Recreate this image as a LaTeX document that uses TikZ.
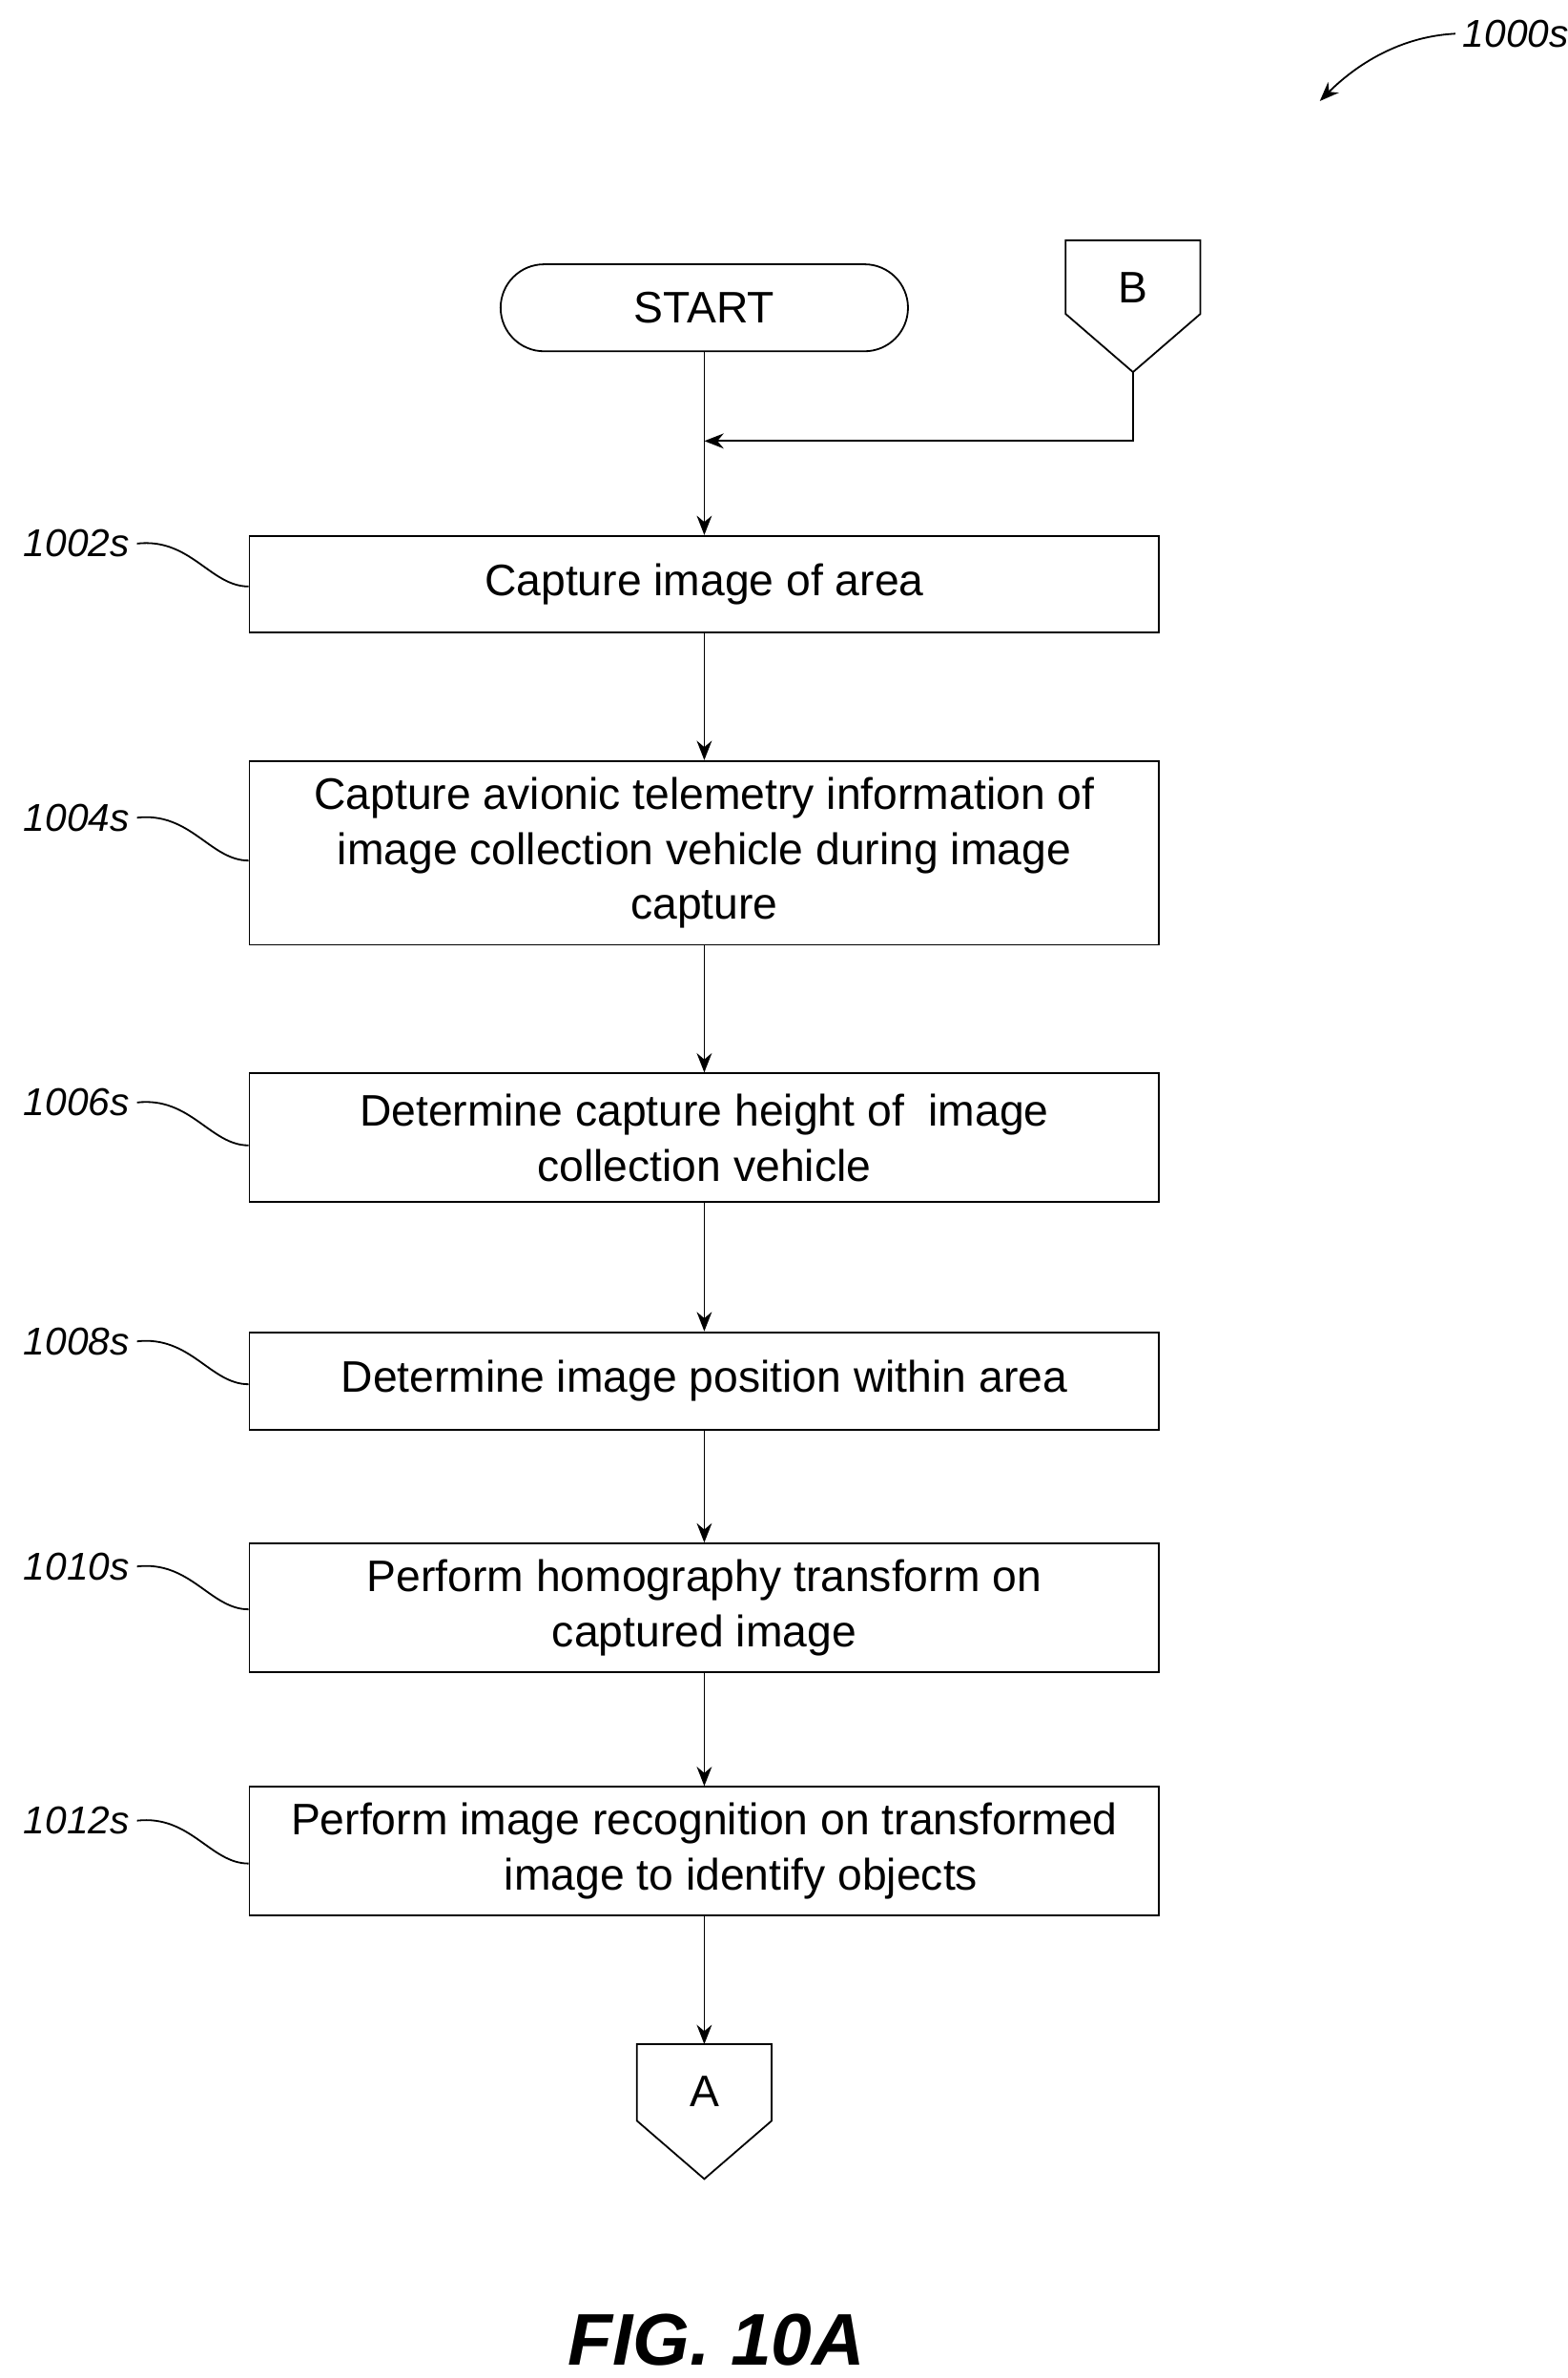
\documentclass[tikz,border=0pt]{standalone}
\usepackage{fontspec}
\setmainfont{Liberation Sans}
\usetikzlibrary{positioning,arrows.meta}
\begin{document}
\begin{tikzpicture}[
    x=0.025cm, y=-0.025cm,
    font=\fontsize{20.5}{25.6}\selectfont,
    procbox/.style={draw, thick, minimum width=14.85cm, align=center, inner sep=0pt},
    ref/.style={font=\fontsize{18}{20}\selectfont\itshape},
    flow/.style={thick, -{Stealth[length=9pt,width=7pt]}},
    lead/.style={thick},
]
\useasboundingbox (0,0) rectangle (1024,1553);

% Start and off-page connectors
\node[draw, thick, rounded corners=0.71cm, minimum width=6.65cm, minimum height=1.42cm] (start) at (460,201) {START};
\draw[thick] (696,157) -- (784,157) -- (784,205) -- (740,243) -- (696,205) -- cycle;
\node (b) at (740,188) {B};
\coordinate (bpt) at (740,243);
\coordinate (join) at (460,288);

\draw[thick] (416,1335) -- (504,1335) -- (504,1385) -- (460,1423) -- (416,1385) -- cycle;
\node (a) at (460,1366) {A};
\coordinate (atop) at (460,1335);

% Steps
\node[procbox, minimum height=1.575cm] (s1) at (460,381.5) {Capture image of area};
\node[procbox, minimum height=3.0cm] (s2) at (460,557) {Capture avionic telemetry information of\\image collection vehicle during image\\capture};
\node[procbox, minimum height=2.1cm] (s3) at (460,743) {Determine capture height of \ image\\collection vehicle};
\node[procbox, minimum height=1.6cm] (s4) at (460,902) {Determine image position within area};
\node[procbox, minimum height=2.1cm] (s5) at (460,1050) {Perform homography transform on\\captured image};
\node[procbox, minimum height=2.1cm] (s6) at (460,1209) {Perform image recognition on transformed\\\hspace*{1.2cm}image to identify objects};

% Connectors
\draw[thick] (start) -- (join);
\draw[flow] (bpt) |- (join);
\draw[flow] (join) -- (s1);
\draw[flow] (s1) -- (s2);
\draw[flow] (s2) -- (s3);
\draw[flow] (s3) -- (s4);
\draw[flow] (s4) -- (s5);
\draw[flow] (s5) -- (s6);
\draw[flow] (s6) -- (atop);

% Reference labels
\foreach \n/\y/\lab in {1/355/1002s, 2/534/1004s, 3/720/1006s, 4/876/1008s, 5/1023/1010s, 6/1189/1012s} {
  \node[ref] (r\n) at (50,\y) {\lab};
  \draw[lead] (r\n.east) .. controls +(35,-4) and +(-25,0) .. (s\n.west |- 0,\y+28);
}

\node[ref] (fig) at (990,22) {1000s};
\draw[flow] (fig.west) .. controls +(-40,2) and +(20,-20) .. (862,66);

\node[font=\fontsize{34}{36}\selectfont\bfseries\itshape] (title) at (468,1528) {FIG. 10A};
\end{tikzpicture}
\end{document}
